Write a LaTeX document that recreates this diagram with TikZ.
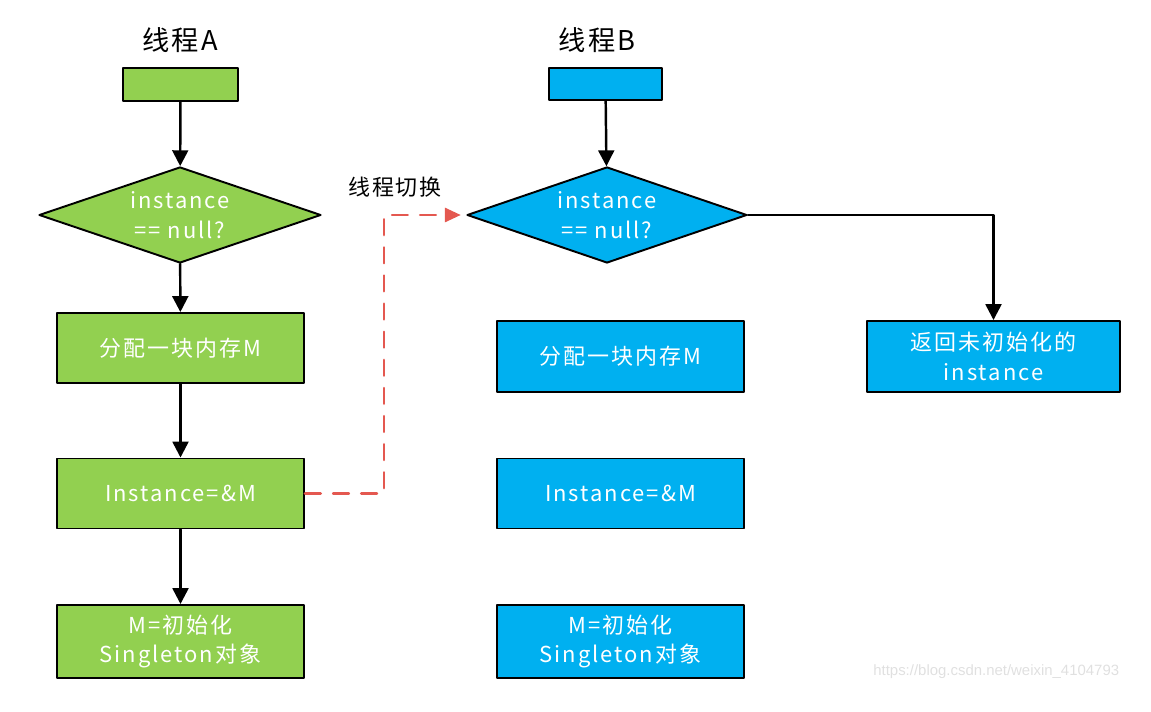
\documentclass[tikz,border=0pt]{standalone}
\usepackage{fontspec}
\setmainfont{Noto Sans CJK SC}[LetterSpace=9]
\newfontfamily\markfont{Liberation Sans}
\usetikzlibrary{arrows.meta,positioning,shapes.geometric,calc}
\definecolor{thrGreen}{RGB}{146, 208, 80}
\definecolor{thrBlue}{RGB}{0, 176, 240}
\definecolor{swRed}{RGB}{228, 88, 80}

\begin{document}
\begin{tikzpicture}[line cap=round, line join=round,
        title/.style={font=\fontsize{15.5}{18}\selectfont, text=black},
        startbox/.style={draw=black, line width=1.1pt, minimum width=2.3cm, minimum height=0.66cm, inner sep=0pt},
        stepbox/.style={draw=black, line width=1.1pt, minimum width=4.94cm, minimum height=1.4cm, align=center,
            text=white, font=\fontsize{12.5}{17}\selectfont, inner sep=0pt},
        testbox/.style={diamond, aspect=3, draw=black, line width=1.1pt, minimum width=5.64cm, minimum height=1.92cm,
            inner sep=0pt, align=center, text=white, font=\fontsize{12.5}{17}\selectfont},
        flow/.style={draw=black, line width=1.4pt, -{Triangle[length=9pt,width=9pt]}},
        switch/.style={draw=swRed, line width=1.4pt, dash pattern=on 9pt off 7pt, -{Triangle[length=9pt,width=8pt]}}]
    \useasboundingbox (0,0) rectangle (23.02,-14.24);
    % thread A
    \node[title] (titleA) at (3.6,-0.8) {线程A};
    \node[startbox, fill=thrGreen] (startA) at (3.61,-1.69) {};
    \node[testbox, fill=thrGreen] (testA) at (3.6,-4.3) {instance\\== null?};
    \node[stepbox, fill=thrGreen] (allocA) at (3.61,-6.96) {分配一块内存M};
    \node[stepbox, fill=thrGreen] (assignA) at (3.61,-9.87) {Instance=\&M};
    \node[stepbox, fill=thrGreen, minimum height=1.46cm] (initA) at (3.61,-12.83) {M=初始化\\Singleton对象};
    \draw[flow] (startA) -- (testA);
    \draw[flow] (testA) -- (allocA);
    \draw[flow] (allocA) -- (assignA);
    \draw[flow] (assignA) -- (initA);
    % thread B
    \node[title] (titleB) at (11.94,-0.8) {线程B};
    \node[startbox, fill=thrBlue, minimum width=2.26cm, minimum height=0.64cm] (startB) at (12.11,-1.68) {};
    \node[testbox, fill=thrBlue, minimum width=5.6cm] (testB) at (12.14,-4.3) {instance\\== null?};
    \node[stepbox, fill=thrBlue, minimum height=1.42cm] (allocB) at (12.41,-7.13) {分配一块内存M};
    \node[stepbox, fill=thrBlue] (assignB) at (12.41,-9.87) {Instance=\&M};
    \node[stepbox, fill=thrBlue, minimum height=1.46cm] (initB) at (12.41,-12.83) {M=初始化\\Singleton对象};
    \node[stepbox, fill=thrBlue, minimum width=5.06cm, minimum height=1.42cm] (retB) at (19.87,-7.13) {返回未初始化的\\instance};
    \draw[flow] (startB) -- (testB);
    \draw[flow] (testB.east) -| (retB.north);
    % switch between threads
    \draw[switch, shorten >=3pt] (assignA.east) -- ++(1.58,0) |- (testB.west);
    \node[font=\fontsize{12.5}{15}\selectfont] (swLabel) at (7.9,-3.74) {线程切换};
    \node[anchor=west, inner sep=0pt, text=black!12, font=\markfont\fontsize{8.5}{10}\selectfont] (mark) at (17.46,-13.44) {https://blog.csdn.net/weixin\_4104793};
\end{tikzpicture}
\end{document}
